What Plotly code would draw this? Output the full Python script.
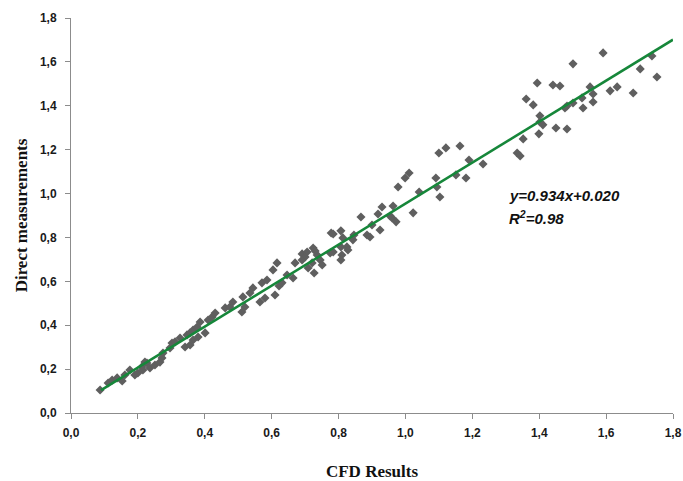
import plotly.graph_objects as go

cfd = [0.087, 0.111, 0.123, 0.138, 0.153, 0.161, 0.176, 0.191, 0.200, 0.212,
       0.221, 0.227, 0.215, 0.236, 0.251, 0.266, 0.275, 0.272, 0.296, 0.302,
       0.311, 0.326, 0.341, 0.356, 0.365, 0.347, 0.356, 0.365, 0.377, 0.386,
       0.401, 0.380, 0.410, 0.422, 0.431, 0.461, 0.475, 0.484, 0.511, 0.520,
       0.514, 0.544, 0.535, 0.565, 0.580, 0.571, 0.586, 0.610, 0.622, 0.631,
       0.646, 0.664, 0.616, 0.604, 0.670, 0.691, 0.706, 0.724, 0.736, 0.709,
       0.727, 0.700, 0.691, 0.745, 0.751, 0.721, 0.775, 0.730, 0.784, 0.810,
       0.807, 0.807, 0.825, 0.828, 0.778, 0.784, 0.807, 0.813, 0.843, 0.846,
       0.867, 0.900, 0.885, 0.894, 0.924, 0.930, 0.963, 0.918, 0.954, 0.960,
       0.972, 0.978, 0.999, 1.011, 1.023, 1.041, 1.091, 1.094, 1.103, 1.100,
       1.121, 1.163, 1.151, 1.181, 1.190, 1.232, 1.334, 1.343, 1.352, 1.361,
       1.382, 1.402, 1.399, 1.411, 1.402, 1.394, 1.441, 1.462, 1.450, 1.483,
       1.477, 1.483, 1.501, 1.528, 1.531, 1.561, 1.552, 1.561, 1.501, 1.591,
       1.612, 1.633, 1.681, 1.702, 1.737, 1.752]
measured = [0.105, 0.137, 0.150, 0.160, 0.146, 0.173, 0.196, 0.173, 0.182, 0.210,
            0.232, 0.228, 0.196, 0.205, 0.219, 0.232, 0.273, 0.251, 0.296, 0.319,
            0.324, 0.342, 0.301, 0.310, 0.333, 0.356, 0.365, 0.378, 0.392, 0.415,
            0.365, 0.346, 0.424, 0.438, 0.456, 0.479, 0.483, 0.506, 0.460, 0.483,
            0.529, 0.570, 0.547, 0.506, 0.524, 0.593, 0.606, 0.538, 0.579, 0.593,
            0.629, 0.615, 0.684, 0.652, 0.684, 0.725, 0.734, 0.752, 0.720, 0.661,
            0.638, 0.711, 0.697, 0.697, 0.675, 0.684, 0.729, 0.738, 0.734, 0.720,
            0.697, 0.757, 0.757, 0.743, 0.820, 0.816, 0.830, 0.798, 0.789, 0.811,
            0.893, 0.857, 0.811, 0.802, 0.834, 0.939, 0.943, 0.907, 0.898, 0.889,
            0.871, 1.030, 1.071, 1.094, 0.912, 1.007, 1.071, 1.030, 0.984, 1.185,
            1.208, 1.217, 1.085, 1.071, 1.153, 1.135, 1.185, 1.171, 1.249, 1.431,
            1.404, 1.326, 1.272, 1.313, 1.354, 1.504, 1.495, 1.490, 1.299, 1.294,
            1.390, 1.399, 1.413, 1.436, 1.390, 1.417, 1.486, 1.454, 1.591, 1.641,
            1.468, 1.486, 1.458, 1.568, 1.627, 1.531]

slope = 0.934
intercept = 0.020
fit_x = [0.09, 1.80]
fit_y = [slope * v + intercept for v in fit_x]

x_ticks = [0.0, 0.2, 0.4, 0.6, 0.8, 1.0, 1.2, 1.4, 1.6, 1.8]
y_ticks = [0.0, 0.2, 0.4, 0.6, 0.8, 1.0, 1.2, 1.4, 1.6, 1.8]

fig = go.Figure()
fig.add_trace(go.Scatter(
    x=cfd, y=measured, mode="markers",
    marker=dict(symbol="diamond", size=7, color="#5f5f5f"),
    showlegend=False, cliponaxis=False))
fig.add_trace(go.Scatter(
    x=fit_x, y=fit_y, mode="lines",
    line=dict(color="#16873a", width=2.5),
    showlegend=False, cliponaxis=False))

tick_font = dict(family="Liberation Sans", size=12, color="#1a1a1a", weight="bold")
title_font = dict(family="Liberation Serif", size=17, color="#111111", weight="bold")

fig.update_layout(
    width=683, height=481,
    margin=dict(l=71, r=10, t=18, b=68),
    paper_bgcolor="white", plot_bgcolor="white",
    separators=",.",
    xaxis=dict(range=[0, 1.8], tickvals=x_ticks, tickformat=".1f",
               showgrid=False, zeroline=False, showline=True,
               linecolor="#8c8c8c", linewidth=1, ticks="outside",
               ticklen=5, tickcolor="#8c8c8c", ticklabeloverflow="allow",
               ticklabelstandoff=4, automargin=False,
               tickfont=tick_font,
               title=dict(text="CFD Results", font=title_font, standoff=26)),
    yaxis=dict(range=[0, 1.8], tickvals=y_ticks, tickformat=".1f",
               showgrid=False, zeroline=False, showline=True,
               linecolor="#8c8c8c", linewidth=1, ticks="outside",
               ticklen=5, tickcolor="#8c8c8c", ticklabeloverflow="allow",
               ticklabelstandoff=6, automargin=False,
               tickfont=tick_font,
               title=dict(text="Direct measurements", font=title_font, standoff=7)),
)

ann_font = dict(family="Liberation Sans", size=15, color="#111111")
fig.add_annotation(x=1.304, y=0.989, xref="x", yref="y", xanchor="left",
                   yanchor="middle", showarrow=False,
                   text="<b><i>y=0.934x+0.020</i></b>", font=ann_font)
fig.add_annotation(x=1.304, y=0.889, xref="x", yref="y", xanchor="left",
                   yanchor="middle", showarrow=False,
                   text="<b><i>R<sup>2</sup>=0.98</i></b>", font=ann_font)

fig.write_html("out.html",
               config={"displayModeBar": False},
               post_script="document.body.style.margin='0';document.body.style.overflow='hidden';")
